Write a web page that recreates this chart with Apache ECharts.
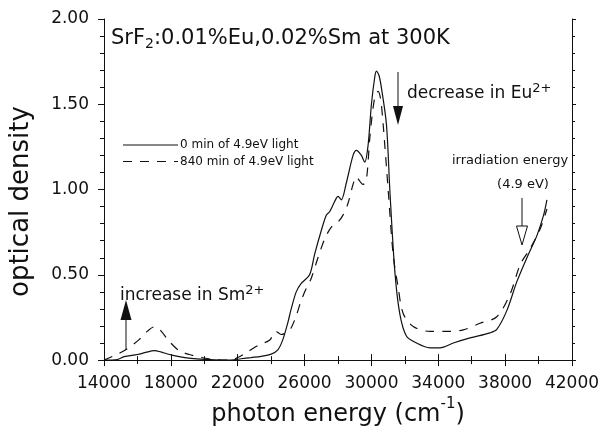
<!DOCTYPE html>
<html><head><meta charset="utf-8">
<script src="https://cdn.jsdelivr.net/npm/echarts@6/dist/echarts.min.js"></script>
<style>html,body{margin:0;padding:0;background:#fff}#c{width:605px;height:432px}</style>
</head><body><div id="c"></div>
<script>
// photon energy (cm-1) and optical density, 0 min of 4.9 eV light (solid)
const solidEnergy = [14000,14800,15200,16000,16500,17000,17400,17800,18500,19200,20000,21000,21600,22200,22800,23400,24000,24400,24700,25000,25200,25500,25800,26300,26600,27000,27300,27500,27800,28000,28200,28500,28900,29100,29400,29600,29800,30000,30200,30300,30450,30600,30900,31100,31400,31700,32100,32700,33500,34100,34900,35900,37100,37500,38100,38700,39300,39900,40300,40500];
const solidOD     = [0.0,0.003,0.02,0.033,0.045,0.055,0.048,0.036,0.02,0.01,0.004,0.0,0.0,0.008,0.015,0.022,0.035,0.06,0.12,0.22,0.30,0.40,0.45,0.50,0.62,0.76,0.85,0.87,0.93,0.96,0.94,1.04,1.20,1.23,1.20,1.16,1.26,1.50,1.66,1.694,1.67,1.595,1.38,1.00,0.52,0.27,0.14,0.10,0.072,0.072,0.10,0.13,0.16,0.18,0.29,0.46,0.60,0.73,0.85,0.94];
// 840 min of 4.9 eV light (dashed)
const dashedEnergy = [14000,14700,15300,16100,16600,17000,17350,17900,18500,19100,19900,20500,21500,22000,22500,23300,23900,24300,24600,24900,25200,25500,25800,26100,26400,26800,27200,27600,28000,28300,28600,28900,29100,29300,29500,29700,29900,30100,30250,30400,30550,30700,31000,31300,31600,31900,32500,33500,34500,35500,36500,37500,38300,38900,39500,40100,40500];
const dashedOD     = [0.0,0.03,0.06,0.12,0.17,0.195,0.177,0.11,0.055,0.033,0.014,0.004,0.0,0.015,0.043,0.09,0.116,0.168,0.15,0.16,0.19,0.26,0.35,0.42,0.48,0.60,0.71,0.78,0.81,0.85,0.92,1.03,1.075,1.05,1.03,1.06,1.30,1.48,1.556,1.576,1.53,1.384,1.0,0.618,0.426,0.273,0.197,0.168,0.168,0.177,0.216,0.254,0.388,0.56,0.655,0.77,0.886];
const seriesNames = ['0 min of 4.9eV light', '840 min of 4.9eV light'];
const xMin = 14000, xMax = 42000, xStep = 4000;
const yMin = 0, yMax = 2, yStep = 0.5;

const FONT = 'DejaVu Sans';
const chart = echarts.init(document.getElementById('c'), null, {renderer: 'canvas'});
const pair = (xs, ys) => xs.map((x, i) => [x, ys[i]]);
const DASH = [9, 8];
const axisCommon = {
  axisLine: {show: true, lineStyle: {color: '#111', width: 1}},
  axisTick: {show: true, inside: false, length: 6, lineStyle: {color: '#111', width: 1}},
  splitLine: {show: false}
};
chart.setOption({
  animation: false,
  backgroundColor: '#fff',
  grid: {left: 104, top: 19, width: 468, height: 348},
  xAxis: [
    Object.assign({}, axisCommon, {
      type: 'value', min: xMin, max: xMax, interval: xStep, position: 'bottom',
      minorTick: {show: true, splitNumber: 2, length: 4, lineStyle: {color: '#111', width: 1}},
      axisLabel: {fontFamily: FONT, fontSize: 17, color: '#111', margin: 15, formatter: v => String(v)},
      name: '{a|photon energy (cm}{b|-1}{a|)}', nameLocation: 'middle', nameGap: 34,
      nameTextStyle: {rich: {
        a: {fontFamily: FONT, fontSize: 24, color: '#111', lineHeight: 30, verticalAlign: 'bottom'},
        b: {fontFamily: FONT, fontSize: 15, color: '#111', lineHeight: 22, verticalAlign: 'top'}
      }}
    }),
    Object.assign({}, axisCommon, {
      type: 'value', min: xMin, max: xMax, interval: xStep, position: 'top',
      minorTick: {show: true, splitNumber: 2, length: 4, lineStyle: {color: '#111', width: 1}},
      axisLabel: {show: false}
    })
  ],
  yAxis: [
    Object.assign({}, axisCommon, {
      type: 'value', min: yMin, max: yMax, interval: yStep, position: 'left',
      minorTick: {show: true, splitNumber: 5, length: 4, lineStyle: {color: '#111', width: 1}},
      axisLabel: {fontFamily: FONT, fontSize: 17, color: '#111', margin: 15, formatter: v => v.toFixed(2)},
      name: 'optical density', nameLocation: 'middle', nameGap: 70,
      nameTextStyle: {fontFamily: FONT, fontSize: 26, color: '#111', padding: [0, 24, 0, 0]}
    }),
    Object.assign({}, axisCommon, {
      type: 'value', min: yMin, max: yMax, interval: yStep, position: 'right',
      axisTick: {show: true, inside: false, length: 4, lineStyle: {color: '#111', width: 1}},
      minorTick: {show: true, splitNumber: 5, length: 3, lineStyle: {color: '#111', width: 1}},
      axisLabel: {show: false}
    })
  ],
  series: [
    {name: seriesNames[0], type: 'line', data: pair(solidEnergy, solidOD), showSymbol: false, symbol: 'none', smooth: 0.3,
     lineStyle: {color: '#111', width: 1.2, type: 'solid'}, itemStyle: {color: '#111'}},
    {name: seriesNames[1], type: 'line', data: pair(dashedEnergy, dashedOD), showSymbol: false, symbol: 'none', smooth: 0.3,
     lineStyle: {color: '#111', width: 1.2, type: DASH}, itemStyle: {color: '#111'}}
  ],
  graphic: [
    // legend
    {type: 'line', shape: {x1: 123, y1: 145, x2: 178, y2: 145}, style: {stroke: '#111', lineWidth: 1.2}},
    {type: 'text', x: 180, y: 145, style: {text: seriesNames[0], font: '12px "DejaVu Sans"', fill: '#111', verticalAlign: 'middle'}},
    {type: 'line', shape: {x1: 123, y1: 161.5, x2: 178, y2: 161.5}, style: {stroke: '#111', lineWidth: 1.2, lineDash: DASH}},
    {type: 'text', x: 180, y: 161.5, style: {text: seriesNames[1], font: '12px "DejaVu Sans"', fill: '#111', verticalAlign: 'middle'}},
    // title
    {type: 'text', x: 111, y: 27, style: {
      text: '{m|SrF}{s|2}{m|:0.01%Eu,0.02%Sm at 300K}',
      rich: {
        m: {fontFamily: FONT, fontSize: 21, fill: '#111', lineHeight: 24, verticalAlign: 'middle'},
        s: {fontFamily: FONT, fontSize: 14, fill: '#111', lineHeight: 14, verticalAlign: 'bottom'}
      }}},
    {type: 'text', x: 407, y: 82, style: {
      text: '{m|decrease in Eu}{s|2+}',
      rich: {
        m: {fontFamily: FONT, fontSize: 17, fill: '#111', lineHeight: 20, verticalAlign: 'bottom'},
        s: {fontFamily: FONT, fontSize: 13, fill: '#111', lineHeight: 13, verticalAlign: 'top'}
      }}},
    {type: 'text', x: 120, y: 284, style: {
      text: '{m|increase in Sm}{s|2+}',
      rich: {
        m: {fontFamily: FONT, fontSize: 17, fill: '#111', lineHeight: 20, verticalAlign: 'bottom'},
        s: {fontFamily: FONT, fontSize: 13, fill: '#111', lineHeight: 13, verticalAlign: 'top'}
      }}},
    {type: 'text', x: 510, y: 154, style: {text: 'irradiation energy', font: '13px "DejaVu Sans"', fill: '#111', align: 'center'}},
    {type: 'text', x: 523, y: 178, style: {text: '(4.9 eV)', font: '13px "DejaVu Sans"', fill: '#111', align: 'center'}},
    // Eu arrow (filled, down)
    {type: 'line', shape: {x1: 398, y1: 72, x2: 398, y2: 108}, style: {stroke: '#111', lineWidth: 1}},
    {type: 'polygon', shape: {points: [[393, 106], [403, 106], [398, 125]]}, style: {fill: '#111'}},
    // Sm arrow (filled, up)
    {type: 'line', shape: {x1: 126, y1: 350, x2: 126, y2: 318}, style: {stroke: '#111', lineWidth: 1}},
    {type: 'polygon', shape: {points: [[120.5, 320], [131.5, 320], [126, 300]]}, style: {fill: '#111'}},
    // irradiation arrow (hollow, down)
    {type: 'line', shape: {x1: 522, y1: 198, x2: 522, y2: 226}, style: {stroke: '#111', lineWidth: 1}},
    {type: 'polygon', shape: {points: [[516.5, 226], [527.5, 226], [522, 245]]}, style: {fill: '#fff', stroke: '#111', lineWidth: 1}}
  ]
});
</script></body></html>
